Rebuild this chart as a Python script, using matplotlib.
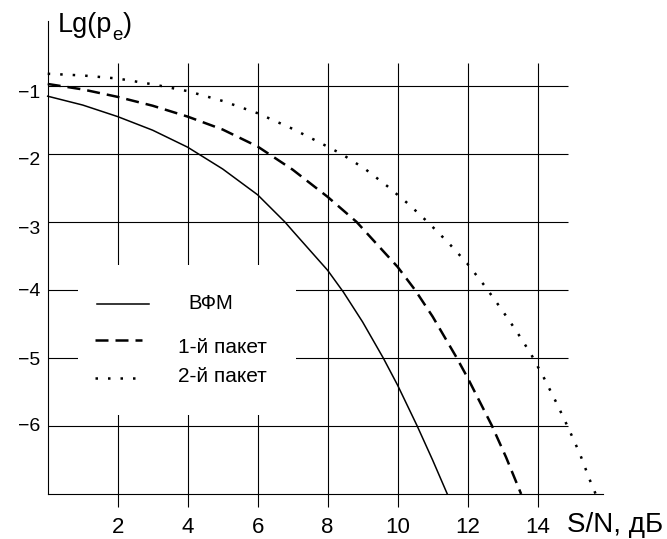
import matplotlib
matplotlib.use('Agg')
import matplotlib.pyplot as plt
from matplotlib.patches import Rectangle
from matplotlib.lines import Line2D
import matplotlib.transforms as mtransforms

plt.rcParams['font.family'] = ['Liberation Sans', 'DejaVu Sans']
plt.rcParams['mathtext.default'] = 'regular'

# ---------------- data ----------------
x_ticks = [2, 4, 6, 8, 10, 12, 14]
x_tick_labels = ['2', '4', '6', '8', '10', '12', '14']
y_ticks = [-1, -2, -3, -4, -5, -6]
y_tick_labels = ['\u22121', '\u22122', '\u22123', '\u22124', '\u22125', '\u22126']

series_names = ['ВФМ', '1-й пакет', '2-й пакет']

vfm_x = [0, 1, 2, 3, 4, 5, 6, 6.78, 7, 8, 8.45, 9, 9.59, 10, 10.56, 11, 11.42]
vfm_y = [-1.15, -1.28, -1.45, -1.65, -1.90, -2.22, -2.60, -3.0, -3.13, -3.71, -4.03, -4.47,
         -5.0, -5.40, -6.0, -6.50, -7.0]

p1_x = [0, 1, 2, 3, 4, 5, 6, 7, 8, 8.83, 10, 10.5, 11, 11.67, 12, 12.69, 13.1, 13.53]
p1_y = [-0.97, -1.05, -1.16, -1.29, -1.45, -1.64, -1.89, -2.23, -2.63, -3.0, -3.66, -4.0,
        -4.39, -4.98, -5.29, -5.99, -6.46, -7.0]

p2_x = [0, 1, 2, 3, 4, 5, 6, 7, 7.73, 8.4, 9.07, 9.7, 10.32, 10.9, 11.46, 11.99, 12.49,
        12.95, 13.39, 13.81, 14.19, 14.55, 14.88, 15.21, 15.49, 15.66]
p2_y = [-0.82, -0.845, -0.89, -0.975, -1.075, -1.22, -1.40, -1.63, -1.82, -2.0, -2.22, -2.47,
        -2.74, -3.02, -3.31, -3.61, -3.94, -4.27, -4.6, -4.94, -5.3, -5.67, -6.03, -6.41,
        -6.79, -7.0]

# ---------------- layout ----------------
W, H = 667, 539
fig = plt.figure(figsize=(W / 100, H / 100), dpi=100)


def fx(x):
    return x / W


def fy(y):
    return 1 - y / H


ax = fig.add_axes([fx(47.7), fy(494), (603 - 47.7) / W, (494 - 21) / H])
ax.set_xlim(0, 15.87)
ax.set_ylim(-7, -0.044)

for s in ['top', 'right']:
    ax.spines[s].set_visible(False)
for s in ['left', 'bottom']:
    ax.spines[s].set_linewidth(0.8)
    ax.spines[s].set_color('black')

# grid
ax.vlines(x_ticks, -7, -0.66, color='black', lw=0.8, zorder=1)
ax.hlines(y_ticks, 0, 14.87, color='black', lw=0.8, zorder=1)

# x ticks
ax.set_xticks(x_ticks)
ax.set_xticklabels(x_tick_labels)
ax.tick_params(axis='x', length=9.4, width=0.8, direction='out', pad=7,
               labelsize=16, colors='black')

# y tick labels as text
ax.set_yticks([])
y_offsets_px = [7.7, 6, 7, 1.5, 2, 0.7]
for yv, lab, off in zip(y_ticks, y_tick_labels, y_offsets_px):
    tr = ax.get_yaxis_transform() + mtransforms.ScaledTranslation(-7.5 / 100, -off / 100, fig.dpi_scale_trans)
    ax.text(0, yv, lab, transform=tr, ha='right', va='center', fontsize=14)

styles = [
    dict(color='black', lw=1.1, linestyle='-'),
    dict(color='black', lw=1.8, linestyle=(0, (5.2, 2.8))),
    dict(color='black', lw=1.8, linestyle=(0, (1, 4))),
]

for xs, ys, st in zip([vfm_x, p1_x, p2_x], [vfm_y, p1_y, p2_y], styles):
    ax.plot(xs, ys, zorder=3, clip_on=False, **st)

# legend (manual)
ax.add_patch(Rectangle((fx(78), fy(415)), (296 - 78) / W, (415 - 265) / H,
                       transform=fig.transFigure, facecolor='white', edgecolor='none', zorder=2))
leg_lines = [((97, 149), 304), ((95, 142), 340), ((95, 135), 378)]
leg_text = [(188, 309, 14.5), (178, 353, 15.0), (178, 381.7, 15.0)]
for (xr, yl), (tx, ty, fs), name, st in zip(leg_lines, leg_text, series_names, styles):
    ax.add_line(Line2D([fx(xr[0]), fx(xr[1])], [fy(yl), fy(yl)], transform=fig.transFigure,
                       zorder=4, clip_on=False, **st))
    fig.text(fx(tx), fy(ty), name, fontsize=fs, ha='left', va='baseline')

# axis titles
renderer = fig.canvas.get_renderer()
t1 = fig.text(fx(58), fy(31.7), 'Lg(p', fontsize=19.5, ha='left', va='baseline')
x1 = t1.get_window_extent(renderer).x1
t2 = fig.text(x1 / W, fy(39.5), 'e', fontsize=13.5, ha='left', va='baseline')
x2 = t2.get_window_extent(renderer).x1
fig.text(x2 / W, fy(31.7), ')', fontsize=19.5, ha='left', va='baseline')

fig.text(fx(567), fy(532), 'S/N, дБ', fontsize=20, ha='left', va='baseline')

fig.savefig('out.png', dpi=100)
